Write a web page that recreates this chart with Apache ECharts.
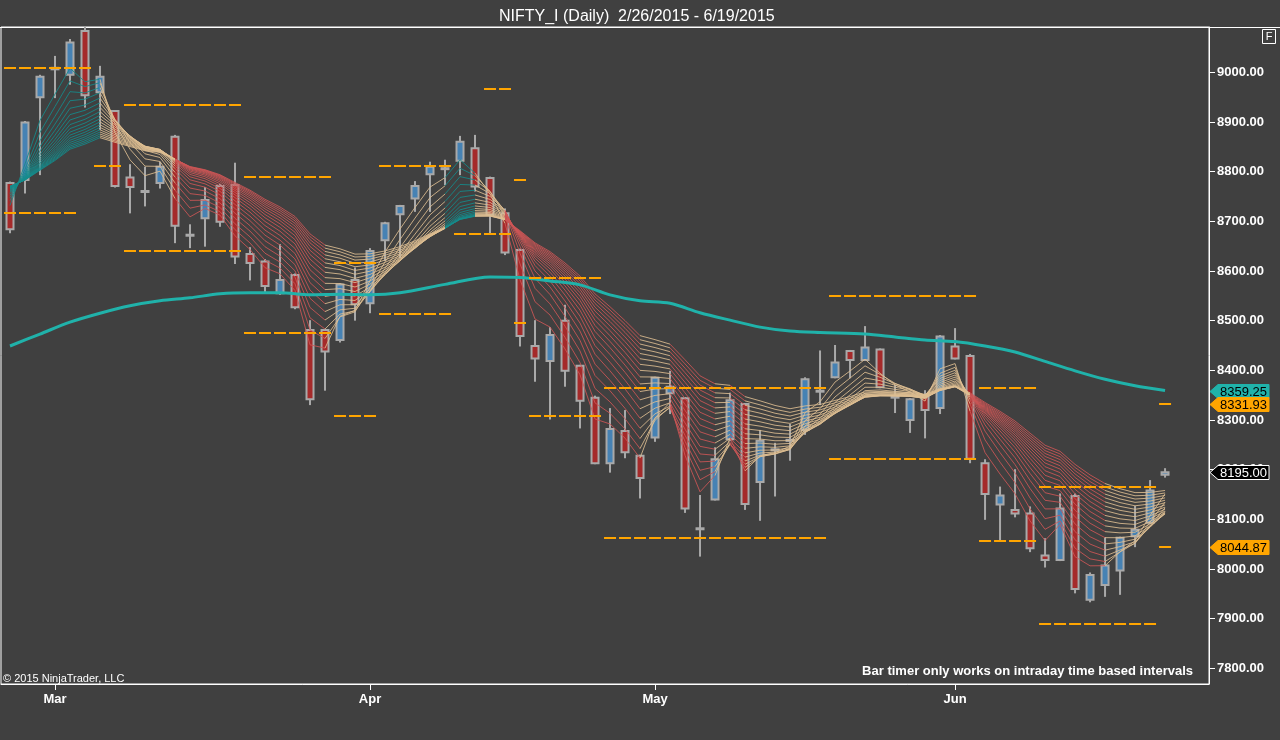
<!DOCTYPE html>
<html lang="en" style="height: 100%">
<head>
  <meta charset="utf-8">
</head>
<body style="height: 100%; margin: 0; background: #404040">
  <div id="container" style="width: 1280px; height: 740px"></div>

  <script type="text/javascript" src="https://fastly.jsdelivr.net/npm/echarts@6/dist/echarts.min.js"></script>

  <script type="text/javascript">
    // daily bars, NIFTY futures 26 Feb - 19 Jun 2015
    var dates = [
      '2015-02-26', '2015-02-27', '2015-02-28',
      '2015-03-02', '2015-03-03', '2015-03-04', '2015-03-05', '2015-03-09', '2015-03-10', '2015-03-11',
      '2015-03-12', '2015-03-13', '2015-03-16', '2015-03-17', '2015-03-18', '2015-03-19', '2015-03-20',
      '2015-03-23', '2015-03-24', '2015-03-25', '2015-03-26', '2015-03-27', '2015-03-30', '2015-03-31',
      '2015-04-01', '2015-04-06', '2015-04-07', '2015-04-08', '2015-04-09', '2015-04-10', '2015-04-13',
      '2015-04-15', '2015-04-16', '2015-04-17', '2015-04-20', '2015-04-21', '2015-04-22', '2015-04-23',
      '2015-04-24', '2015-04-27', '2015-04-28', '2015-04-29', '2015-04-30',
      '2015-05-04', '2015-05-05', '2015-05-06', '2015-05-07', '2015-05-08', '2015-05-11', '2015-05-12',
      '2015-05-13', '2015-05-14', '2015-05-15', '2015-05-18', '2015-05-19', '2015-05-20', '2015-05-21',
      '2015-05-22', '2015-05-25', '2015-05-26', '2015-05-27', '2015-05-28', '2015-05-29',
      '2015-06-01', '2015-06-02', '2015-06-03', '2015-06-04', '2015-06-05', '2015-06-08', '2015-06-09',
      '2015-06-10', '2015-06-11', '2015-06-12', '2015-06-15', '2015-06-16', '2015-06-17', '2015-06-18',
      '2015-06-19'
    ];
    var opens = [
      8777, 8783, 8950, 9006, 8995, 9083, 8960, 8922, 8788, 8761,
      8777, 8870, 8673, 8706, 8771, 8773, 8634, 8619, 8555, 8592,
      8481, 8481, 8461, 8582, 8535, 8662, 8714, 8746, 8795, 8806,
      8822, 8847, 8787, 8716, 8642, 8449, 8419, 8500, 8409, 8345,
      8213, 8278, 8228, 8265, 8354, 8344, 8080, 8140, 8261, 8332,
      8175, 8241, 8259, 8280, 8358, 8386, 8439, 8421, 8442, 8347,
      8300, 8350, 8324, 8448, 8429, 8213, 8130, 8119, 8112, 8027,
      8018, 8147, 7938, 7968, 7997, 8066, 8093, 8190
    ];
    var highs = [
      8780, 8902, 8995, 9033, 9067, 9120, 9013, 8924, 8815, 8810,
      8820, 8874, 8694, 8769, 8775, 8818, 8648, 8624, 8654, 8595,
      8501, 8483, 8575, 8607, 8646, 8699, 8733, 8781, 8820, 8824,
      8872, 8874, 8790, 8726, 8645, 8501, 8487, 8532, 8411, 8349,
      8324, 8320, 8230, 8387, 8399, 8346, 8149, 8245, 8355, 8334,
      8280, 8254, 8292, 8386, 8440, 8451, 8441, 8489, 8444, 8371,
      8344, 8360, 8471, 8485, 8433, 8221, 8166, 8201, 8126, 8062,
      8152, 8152, 7993, 8064, 8065, 8127, 8179, 8203
    ];
    var lows = [
      8676, 8756, 8793, 8948, 8975, 8929, 8884, 8768, 8716, 8730,
      8766, 8656, 8646, 8649, 8689, 8614, 8581, 8556, 8552, 8523,
      8330, 8359, 8456, 8500, 8515, 8620, 8626, 8719, 8719, 8773,
      8793, 8760, 8676, 8632, 8448, 8377, 8301, 8367, 8283, 8211,
      8194, 8223, 8142, 8256, 8312, 8113, 8025, 8138, 8258, 8119,
      8097, 8146, 8218, 8270, 8330, 8384, 8384, 8420, 8364, 8314,
      8274, 8263, 8312, 8422, 8213, 8099, 8056, 8104, 8034, 8003,
      8016, 7951, 7933, 7944, 7948, 8044, 8091, 8184
    ];
    var closes = [
      8684, 8899, 8991, 9009, 9060, 8954, 8991, 8771, 8769, 8760,
      8810, 8691, 8672, 8743, 8699, 8629, 8616, 8570, 8582, 8527,
      8342, 8438, 8573, 8533, 8640, 8696, 8731, 8771, 8810, 8807,
      8860, 8770, 8713, 8637, 8469, 8424, 8471, 8399, 8339, 8213,
      8282, 8235, 8183, 8385, 8367, 8122, 8082, 8221, 8340, 8131,
      8258, 8241, 8260, 8382, 8359, 8416, 8421, 8446, 8366, 8347,
      8342, 8320, 8468, 8424, 8222, 8151, 8148, 8112, 8042, 8018,
      8122, 7960, 7988, 8007, 8063, 8079, 8158, 8195
    ];

    // long moving average (teal), read at these bar indices
    var smaIdx = [0, 2, 4, 6, 8, 10, 12, 14, 16, 18, 20, 22, 24, 26, 29, 32, 34, 36, 38,
      40, 42, 44, 46, 48, 50, 52, 54, 57, 59, 61, 63, 65, 67, 69, 71, 73, 75, 77];
    var smaVal = [8449, 8473, 8497, 8515, 8530, 8540, 8546, 8554, 8556, 8556, 8552, 8553, 8552,
      8556, 8573, 8588, 8587, 8580, 8572, 8552, 8540, 8535, 8516, 8501, 8487, 8479, 8476, 8473,
      8467, 8461, 8458, 8449, 8437, 8418, 8399, 8382, 8369, 8359.25];

    // EMA ribbon periods and the value the averages carry in from before the first bar
    var ribbonPeriods = [3, 4, 5, 6, 7, 8, 9, 10, 11, 12, 13, 14, 15, 16, 17, 18, 19, 20];
    var ribbonSeed = 8780;

    // orange dashed levels: first bar, last bar, price
    var levelFrom = [0, 0, 6, 8, 8, 16, 16, 22, 22, 25, 25, 30, 32, 34, 34, 35, 35, 40, 40, 55, 55, 65, 65, 69, 69, 77, 77];
    var levelTo = [5, 4, 7, 15, 15, 21, 21, 24, 24, 29, 29, 33, 33, 34, 34, 39, 39, 54, 54, 64, 64, 68, 68, 76, 76, 77, 77];
    var levelVal = [9008, 8717, 8812, 8934, 8641, 8790, 8476, 8308, 8617, 8812, 8514, 8674, 8967,
      8783, 8496, 8586, 8308, 8365, 8063, 8550, 8221, 8365, 8056, 8166, 7889, 8331.93, 8044.87];

    var yTicks = [7800, 7900, 8000, 8100, 8200, 8300, 8400, 8500, 8600, 8700, 8800, 8900, 9000];
    var monthNames = ['Jan', 'Feb', 'Mar', 'Apr', 'May', 'Jun', 'Jul', 'Aug', 'Sep', 'Oct', 'Nov', 'Dec'];

    var BG = '#404040';
    var EDGE = '#a9a9a9';
    var UP = '#4682b4';
    var DOWN = '#a52a2a';
    var RIB_UP = 'rgba(20,140,140,0.85)';
    var RIB_MIX = 'rgba(222,190,146,0.85)';
    var RIB_DN = 'rgba(206,86,86,0.85)';
    var FONT = '"Liberation Sans", Arial, sans-serif';

    var last = closes.length - 1;

    // first bar of each month gets an axis label
    var monthIdx = [];
    for (var i = 1; i < dates.length; i++) {
      if (dates[i].slice(5, 7) !== dates[i - 1].slice(5, 7)) monthIdx.push(i);
    }

    var candleData = closes.map(function (c, i) {
      return [i, opens[i], c, lows[i], highs[i]];
    });

    var emaLines = ribbonPeriods.map(function (n) {
      var a = 2 / (n + 1), prev = ribbonSeed;
      return closes.map(function (c) {
        prev = prev + a * (c - prev);
        return prev;
      });
    });
    // ribbon colour: fully stacked bullish / bearish / mixed
    var ribbonColor = closes.map(function (c, i) {
      var bull = true, bear = true;
      for (var k = 0; k < emaLines.length - 1; k++) {
        if (!(emaLines[k][i] > emaLines[k + 1][i])) bull = false;
        if (!(emaLines[k][i] < emaLines[k + 1][i])) bear = false;
      }
      return bull ? RIB_UP : (bear ? RIB_DN : RIB_MIX);
    });
    var ribbonData = [];
    for (var j = 1; j <= last; j++) ribbonData.push([j, emaLines[0][j]]);

    var smaData = smaIdx.map(function (x, i) { return [x, smaVal[i]]; });
    var levelData = levelVal.map(function (v, i) { return [levelFrom[i], levelTo[i], v]; });

    var tagValues = [smaVal[smaVal.length - 1], levelVal[levelVal.length - 2], closes[last], levelVal[levelVal.length - 1]];
    var tagFill = ['#20b2aa', '#ffa500', '#000000', '#ffa500'];
    var tagStroke = ['#20b2aa', '#ffa500', '#ffffff', '#ffa500'];
    var tagText = ['#000000', '#000000', '#ffffff', '#000000'];

    var dom = document.getElementById('container');
    var myChart = echarts.init(dom, null, { renderer: 'canvas' });

    var option = {
      backgroundColor: BG,
      animation: false,
      title: {
        text: 'NIFTY_I (Daily)  2/26/2015 - 6/19/2015',
        left: 494, top: 4,
        textStyle: { color: '#ffffff', fontSize: 16, fontWeight: 'normal', fontFamily: FONT }
      },
      grid: {
        left: 1, right: 71, top: 27, bottom: 56,
        show: true, borderColor: '#ffffff', borderWidth: 1,
        outerBoundsMode: 'none'
      },
      xAxis: {
        type: 'value',
        min: -0.6, max: 79.93,
        splitLine: { show: false },
        axisLine: { show: true, onZero: false, lineStyle: { color: '#ffffff' } },
        axisTick: { show: true, customValues: monthIdx, length: 6, lineStyle: { color: '#ffffff' } },
        axisLabel: {
          customValues: monthIdx,
          formatter: function (v) { return monthNames[parseInt(dates[v].slice(5, 7), 10) - 1]; },
          color: '#ffffff', fontSize: 13, fontWeight: 'bold', fontFamily: FONT, margin: 9
        }
      },
      yAxis: {
        type: 'value',
        position: 'right',
        min: 7768.5, max: 9091.2,
        splitLine: { show: false },
        axisLine: { show: true, onZero: false, lineStyle: { color: '#ffffff' } },
        axisTick: { show: true, customValues: yTicks, length: 6, lineStyle: { color: '#ffffff' } },
        axisLabel: {
          customValues: yTicks,
          formatter: function (v) { return v.toFixed(2); },
          color: '#ffffff', fontSize: 13, fontWeight: 'bold', fontFamily: FONT, margin: 8
        }
      },
      graphic: [
        { type: 'line', shape: { x1: 0, y1: 27.5, x2: 1280, y2: 27.5 }, style: { stroke: '#ffffff', lineWidth: 1 } },
        { type: 'rect', shape: { x: 1262.5, y: 29.5, width: 13, height: 14 }, style: { fill: 'none', stroke: '#ffffff', lineWidth: 1 } },
        { type: 'text', x: 1269, y: 37, style: { text: 'F', fill: '#ffffff', font: '11px ' + FONT, align: 'center', verticalAlign: 'middle' } },
        { type: 'text', x: 3, y: 679, style: { text: '\u00a9 2015 NinjaTrader, LLC', fill: '#ffffff', font: '11px ' + FONT, verticalAlign: 'middle' } },
        { type: 'text', x: 1193, y: 671, style: { text: 'Bar timer only works on intraday time based intervals', fill: '#ffffff', font: 'bold 13px ' + FONT, align: 'right', verticalAlign: 'middle' } }
      ],
      series: [
        {
          type: 'custom',
          name: 'NIFTY_I',
          clip: true,
          z: 2,
          data: candleData,
          encode: { x: 0, y: [1, 2, 3, 4] },
          renderItem: function (params, api) {
            var i = api.value(0), o = api.value(1), c = api.value(2);
            var pO = api.coord([i, o]), pC = api.coord([i, c]);
            var pL = api.coord([i, api.value(3)]), pH = api.coord([i, api.value(4)]);
            var x = pO[0];
            var top = Math.min(pO[1], pC[1]), bot = Math.max(pO[1], pC[1]);
            var fill = Math.abs(c - o) < 2 ? EDGE : (c > o ? UP : DOWN);
            return {
              type: 'group',
              children: [
                { type: 'line', shape: { x1: x, y1: pH[1], x2: x, y2: pL[1] }, style: { stroke: EDGE, lineWidth: 2 } },
                { type: 'rect', shape: { x: x - 3.5, y: top, width: 7, height: Math.max(bot - top, 1) }, style: { fill: fill, stroke: EDGE, lineWidth: 2 } }
              ]
            };
          }
        },
        {
          type: 'custom',
          name: 'ribbon',
          clip: true,
          z: 3,
          data: ribbonData,
          encode: { x: 0, y: 1 },
          renderItem: function (params, api) {
            var i = api.value(0);
            var kids = [];
            for (var k = emaLines.length - 1; k >= 0; k--) {
              var p0 = api.coord([i - 1, emaLines[k][i - 1]]);
              var p1 = api.coord([i, emaLines[k][i]]);
              kids.push({
                type: 'line',
                shape: { x1: p0[0], y1: p0[1], x2: p1[0], y2: p1[1] },
                style: { stroke: ribbonColor[i], lineWidth: 1 }
              });
            }
            return { type: 'group', children: kids };
          }
        },
        {
          type: 'line',
          name: 'SMA',
          z: 4,
          data: smaData,
          smooth: 0.3,
          symbol: 'none',
          lineStyle: { color: '#20b2aa', width: 3 }
        },
        {
          type: 'custom',
          name: 'levels',
          clip: true,
          z: 5,
          data: levelData,
          encode: { x: [0, 1], y: 2 },
          renderItem: function (params, api) {
            var a = api.coord([api.value(0) - 0.4, api.value(2)]);
            var b = api.coord([api.value(1) + 0.47, api.value(2)]);
            var y = Math.round(a[1]);
            return {
              type: 'line',
              shape: { x1: a[0], y1: y, x2: b[0], y2: y },
              style: { stroke: '#ffa500', lineWidth: 2, lineDash: [12, 3] }
            };
          }
        },
        {
          type: 'custom',
          name: 'tags',
          clip: false,
          z: 10,
          data: tagValues.map(function (v) { return [last, v]; }),
          encode: { x: 0, y: 1 },
          renderItem: function (params, api) {
            var k = params.dataIndex;
            var v = api.value(1);
            var y = Math.round(api.coord([last, v])[1]) + 0.5;
            var x0 = params.coordSys.x + params.coordSys.width;
            var h = 7;
            return {
              type: 'group',
              children: [
                {
                  type: 'polygon',
                  shape: { points: [[x0 + 1, y], [x0 + 9, y - h], [x0 + 60, y - h], [x0 + 60, y + h], [x0 + 9, y + h]] },
                  style: { fill: tagFill[k], stroke: tagStroke[k], lineWidth: 1 }
                },
                {
                  type: 'text',
                  style: { x: x0 + 11, y: y + 1, text: v.toFixed(2), fill: tagText[k], font: '13px ' + FONT, verticalAlign: 'middle' }
                }
              ]
            };
          }
        }
      ]
    };

    if (option && typeof option === 'object') {
      myChart.setOption(option);
    }

    window.addEventListener('resize', myChart.resize);
  </script>
</body>
</html>
